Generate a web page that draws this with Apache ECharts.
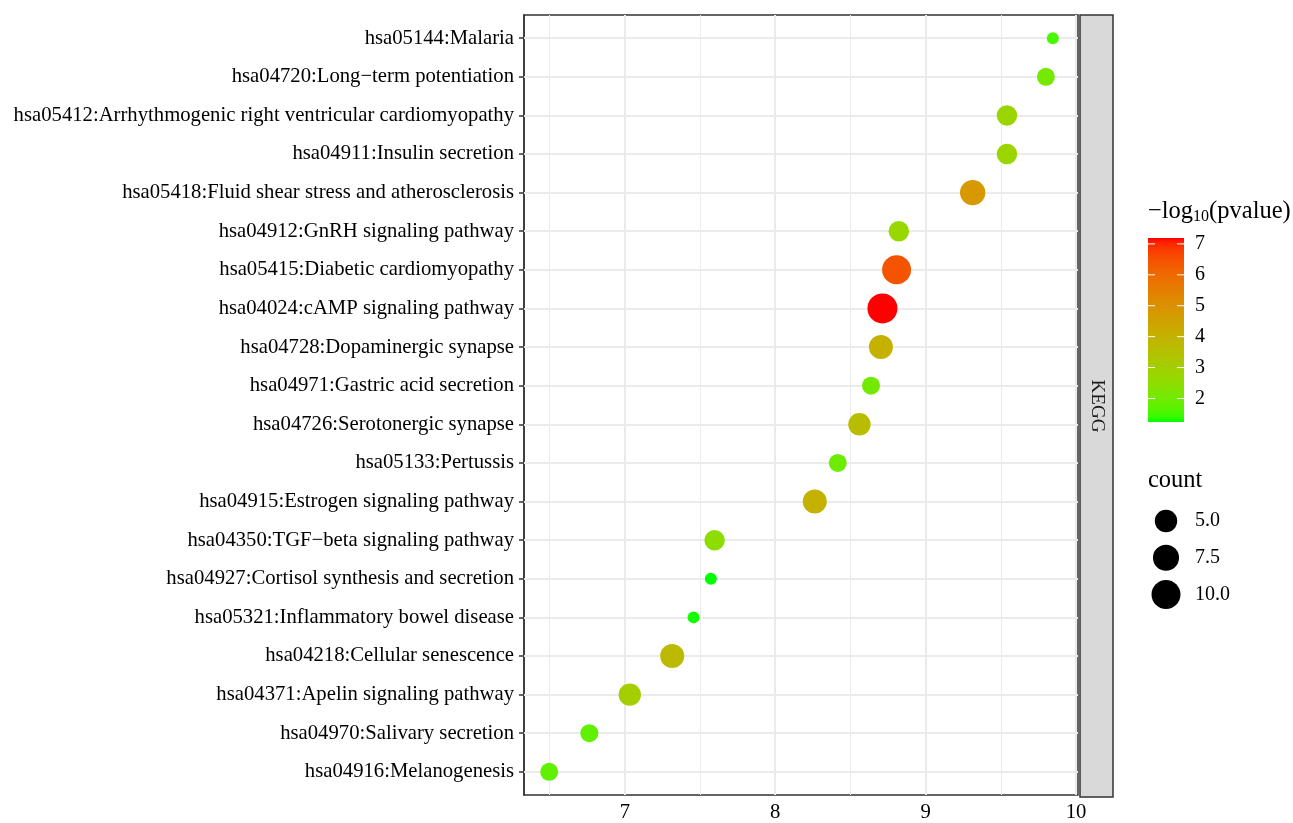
<!DOCTYPE html>
<html>
<head>
<meta charset="utf-8">
<script src="https://cdn.jsdelivr.net/npm/echarts@6/dist/echarts.min.js"></script>
<style>
html,body{margin:0;padding:0;background:#fff;}
#chart{width:1293px;height:823px;}
</style>
</head>
<body>
<div id="chart"></div>
<script>
// ---- data (top to bottom) ----
const categories = [
  'hsa05144:Malaria',
  'hsa04720:Long\u2212term potentiation',
  'hsa05412:Arrhythmogenic right ventricular cardiomyopathy',
  'hsa04911:Insulin secretion',
  'hsa05418:Fluid shear stress and atherosclerosis',
  'hsa04912:GnRH signaling pathway',
  'hsa05415:Diabetic cardiomyopathy',
  'hsa04024:cAMP signaling pathway',
  'hsa04728:Dopaminergic synapse',
  'hsa04971:Gastric acid secretion',
  'hsa04726:Serotonergic synapse',
  'hsa05133:Pertussis',
  'hsa04915:Estrogen signaling pathway',
  'hsa04350:TGF\u2212beta signaling pathway',
  'hsa04927:Cortisol synthesis and secretion',
  'hsa05321:Inflammatory bowel disease',
  'hsa04218:Cellular senescence',
  'hsa04371:Apelin signaling pathway',
  'hsa04970:Salivary secretion',
  'hsa04916:Melanogenesis'
];
const xValues = [9.846, 9.800, 9.541, 9.541, 9.313, 8.822, 8.807, 8.713, 8.703, 8.637,
                 8.560, 8.416, 8.263, 7.597, 7.572, 7.457, 7.315, 7.033, 6.764, 6.497];
const counts  = [2, 3, 4, 4, 7, 4, 10, 11, 6, 3, 5, 3, 6, 4, 2, 2, 6, 5, 3, 3];
const logP    = [1.54, 2.07, 2.79, 2.79, 4.81, 2.73, 6.42, 7.19, 4.04, 2.01,
                 3.62, 1.95, 4.04, 2.49, 1.24, 1.30, 3.74, 3.03, 1.78, 1.78];
const xTicks = [7, 8, 9, 10];
const xMinorTicks = [6.5, 7.5, 8.5, 9.5];
const colorTicks = [2, 3, 4, 5, 6, 7];
const sizeBreaks = [5, 7.5, 10];
const stripLabel = 'KEGG';

// ---- scales ----
const FONT = '"Liberation Serif", "Times New Roman", serif';
const xMinData = Math.min(...xValues), xMaxData = Math.max(...xValues);
const xPad = (xMaxData - xMinData) * 0.05;
const xMin = xMinData - xPad, xMax = xMaxData + xPad;
const pMin = Math.min(...logP), pMax = Math.max(...logP);
const cMin = Math.min(...counts), cMax = Math.max(...counts);
const dMin = 12, dMax = 30;
function sizeOf(c) { return dMin + (dMax - dMin) * Math.sqrt((c - cMin) / (cMax - cMin)); }

// Lab interpolation green -> red (like ggplot scale_colour_gradient)
function toLin(c){ c/=255; return c<=0.04045? c/12.92 : Math.pow((c+0.055)/1.055,2.4); }
function toSrgb(c){ c = c<=0.0031308? 12.92*c : 1.055*Math.pow(c,1/2.4)-0.055; return Math.max(0,Math.min(255,Math.round(c*255))); }
const Xn=0.95047,Yn=1,Zn=1.08883;
function f(t){ return t>0.008856? Math.cbrt(t) : 7.787*t+16/116; }
function finv(t){ return t>0.206893? t*t*t : (t-16/116)/7.787; }
function rgb2lab(r,g,b){
  r=toLin(r);g=toLin(g);b=toLin(b);
  const X=0.4124*r+0.3576*g+0.1805*b, Y=0.2126*r+0.7152*g+0.0722*b, Z=0.0193*r+0.1192*g+0.9505*b;
  const fx=f(X/Xn), fy=f(Y/Yn), fz=f(Z/Zn);
  return [116*fy-16, 500*(fx-fy), 200*(fy-fz)];
}
function lab2rgb(L,a,b){
  const fy=(L+16)/116, fx=fy+a/500, fz=fy-b/200;
  const X=Xn*finv(fx), Y=Yn*finv(fy), Z=Zn*finv(fz);
  const r= 3.2406*X-1.5372*Y-0.4986*Z, g=-0.9689*X+1.8758*Y+0.0415*Z, bb=0.0557*X-0.2040*Y+1.0570*Z;
  return 'rgb('+toSrgb(r)+','+toSrgb(g)+','+toSrgb(bb)+')';
}
const labLow = rgb2lab(0,255,0), labHigh = rgb2lab(255,0,0);
function colorAt(t){ return lab2rgb(labLow[0]+(labHigh[0]-labLow[0])*t, labLow[1]+(labHigh[1]-labLow[1])*t, labLow[2]+(labHigh[2]-labLow[2])*t); }
const NSTOP = 40;
const colorStops = [];
for (let i=0;i<=NSTOP;i++) colorStops.push(colorAt(i/NSTOP));

// ---- layout ----
const grid = {left:524, top:15, width:554, height:782};
const strip = {x:1080, y:15, w:33, h:782};
const bar = {x:1148, y:238, w:36, h:184};
const sizeLegend = {cx:1166, top:521, step:36.7, labelX:1195};

const seriesData = categories.map((c,i)=>[xValues[i], i, counts[i], logP[i], c]);
const yIdx = categories.map((c,i)=>i);

const graphics = [];
// strip
graphics.push({type:'rect', shape:{x:strip.x, y:strip.y, width:strip.w, height:strip.h},
  style:{fill:'#D9D9D9', stroke:'#333333', lineWidth:1.5}, z:10});
graphics.push({type:'text', x:strip.x+strip.w/2, y:strip.y+strip.h/2, rotation:-Math.PI/2,
  style:{text:stripLabel, font:'19px '+FONT, fill:'#1A1A1A', align:'center', verticalAlign:'middle'}, z:11});
// colour bar title
graphics.push({type:'text', x:bar.x, y:212, style:{
  text:'{m|\u2212log}{s|10}{m|(pvalue)}',
  rich:{m:{fontSize:24.5, fontFamily:FONT, fill:'#000', lineHeight:26},
        s:{fontSize:16, fontFamily:FONT, fill:'#000', lineHeight:14, verticalAlign:'bottom'}},
  align:'left', verticalAlign:'middle'}, z:10});
// colour bar
const gStops = colorStops.map((c,i)=>({offset:1 - i/NSTOP, color:c})).reverse();
graphics.push({type:'rect', shape:{x:bar.x, y:bar.y, width:bar.w, height:bar.h},
  style:{fill:new echarts.graphic.LinearGradient(0,0,0,1,gStops)}, z:10});
colorTicks.forEach(v=>{
  const y = bar.y + (pMax - v)/(pMax - pMin)*bar.h;
  graphics.push({type:'line', shape:{x1:bar.x, y1:y, x2:bar.x+7, y2:y}, style:{stroke:'#fff', lineWidth:1}, z:11});
  graphics.push({type:'line', shape:{x1:bar.x+bar.w-7, y1:y, x2:bar.x+bar.w, y2:y}, style:{stroke:'#fff', lineWidth:1}, z:11});
  graphics.push({type:'text', x:1195, y:y, style:{text:String(v), font:'20px '+FONT, fill:'#000', align:'left', verticalAlign:'middle'}, z:11});
});
// size legend
graphics.push({type:'text', x:bar.x, y:481, style:{text:'count', font:'24.5px '+FONT, fill:'#000', align:'left', verticalAlign:'middle'}, z:10});
sizeBreaks.forEach((v,i)=>{
  const cy = sizeLegend.top + i*sizeLegend.step;
  graphics.push({type:'circle', shape:{cx:sizeLegend.cx, cy:cy, r:sizeOf(v)/2}, style:{fill:'#000'}, z:10});
  graphics.push({type:'text', x:sizeLegend.labelX, y:cy, style:{text:v.toFixed(1), font:'20px '+FONT, fill:'#000', align:'left', verticalAlign:'middle'}, z:10});
});

const chart = echarts.init(document.getElementById('chart'), null, {renderer:'canvas'});
const option = {
  animation:false,
  backgroundColor:'#fff',
  grid:{left:grid.left, top:grid.top, width:grid.width, height:grid.height, show:true,
        backgroundColor:'#fff', borderColor:'#333333', borderWidth:1.5, containLabel:false},
  xAxis:{type:'value', min:xMin, max:xMax,
    axisLine:{show:true, lineStyle:{color:'#333333', width:1.5}},
    axisTick:{show:true, customValues:xTicks, length:5, lineStyle:{color:'#333333', width:1.5}},
    axisLabel:{customValues:xTicks, margin:7, fontSize:20.7, fontFamily:FONT, color:'#000'},
    splitLine:{show:false}},
  yAxis:{type:'value', min:-0.6, max:categories.length-1+0.6, inverse:true,
    axisLine:{show:true, lineStyle:{color:'#333333', width:1.5}},
    axisTick:{show:true, customValues:yIdx, length:5, lineStyle:{color:'#333333', width:1.5}},
    axisLabel:{customValues:yIdx, margin:10, fontSize:20.7, fontFamily:FONT, color:'#000',
      formatter:(v)=>categories[Math.round(v)]},
    splitLine:{show:false}},
  visualMap:{show:false, type:'continuous', dimension:3, min:pMin, max:pMax, seriesIndex:1,
    inRange:{color:colorStops}},
  series:[
    {type:'scatter', data:[], z:1, silent:true,
     markLine:{silent:true, symbol:'none', z:1, animation:false, label:{show:false},
       data:[
         ...xMinorTicks.map(v=>({xAxis:v, lineStyle:{color:'#EBEBEB', width:1, type:'solid'}})),
         ...xTicks.map(v=>({xAxis:v, lineStyle:{color:'#EBEBEB', width:2, type:'solid'}})),
         ...yIdx.map(v=>({yAxis:v, lineStyle:{color:'#EBEBEB', width:2, type:'solid'}}))
       ]}},
    {type:'scatter', z:3, data:seriesData,
     symbolSize:(d)=>sizeOf(d[2]),
     itemStyle:{opacity:1}}
  ],
  graphic:graphics
};
chart.setOption(option);
</script>
</body>
</html>
